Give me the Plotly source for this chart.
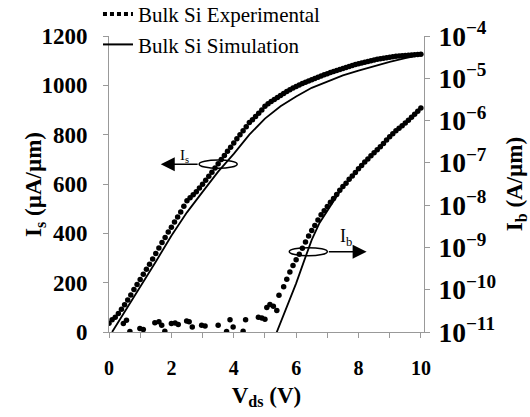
import plotly.graph_objects as go
import numpy as np

# ---- data ----
# Experimental source current Is (uA/um) vs Vds (V), 0.1 V steps
vds_exp = [round(0.1 * i, 1) for i in range(101)]
is_exp = [35, 50, 60, 75, 92, 110, 130, 150, 172, 193,
          213, 234, 254, 275, 296, 318, 341, 363, 383, 405,
          425, 446, 466, 486, 510, 532, 544, 556, 569, 584,
          599, 615, 631, 648, 665, 682, 699, 716, 733, 749,
          766, 783, 800, 816, 832, 849, 860, 874, 887, 900,
          915, 925, 934, 943, 951, 959, 967, 975, 982, 989,
          995, 1001, 1007, 1012, 1018, 1023, 1028, 1033, 1038, 1043,
          1047, 1052, 1056, 1060, 1064, 1068, 1072, 1076, 1080, 1084,
          1087, 1091, 1094, 1097, 1100, 1103, 1106, 1108, 1110, 1112,
          1114, 1116, 1118, 1119, 1120, 1121, 1122, 1123, 1124, 1125,
          1126]

# Simulated source current
vds_sim_is = [0.1, 0.5, 1.0, 1.5, 2.0, 2.5, 3.0, 3.5, 4.0, 4.5, 5.0, 5.5,
              6.0, 6.5, 7.0, 7.5, 8.0, 8.5, 9.0, 9.5, 10.0]
is_sim = [0, 80, 180, 285, 390, 485, 568, 650, 722, 800, 865, 915,
          955, 990, 1015, 1040, 1060, 1078, 1095, 1110, 1124]

# Experimental body current Ib (A/um), given as log10 values
vds_exp_ib = [0.46, 0.56, 0.67, 0.99, 1.1, 1.47, 1.6, 1.69, 1.79, 2.0, 2.12, 2.22,
              2.49, 2.57, 2.67, 2.97, 3.08, 3.5, 3.77, 3.88, 3.98, 4.3, 4.38, 4.79,
              4.9, 5.0, 5.06, 5.16, 5.27, 5.38, 5.45,
              5.6, 5.7, 5.8, 5.9, 6.0, 6.1, 6.2, 6.3, 6.4, 6.5, 6.6, 6.7, 6.8, 6.9,
              7.0, 7.1, 7.2, 7.3, 7.4, 7.5, 7.6, 7.7, 7.8, 7.9, 8.0, 8.1, 8.2, 8.3,
              8.4, 8.5, 8.6, 8.7, 8.8, 8.9, 9.0, 9.1, 9.2, 9.3, 9.4, 9.5, 9.6, 9.7,
              9.8, 9.9, 10.0]
log_ib_exp = [-10.8, -10.72, -10.99, -10.92, -10.94, -10.78, -10.76, -10.84, -10.98, -10.8, -10.79, -10.82,
              -10.74, -10.76, -10.88, -10.84, -10.86, -10.84, -10.99, -10.71, -10.88, -10.98, -10.71, -10.65,
              -10.67, -10.7, -10.42, -10.35, -10.39, -10.49, -10.13,
              -9.93, -9.75, -9.58, -9.43, -9.29, -9.16, -9.02, -8.87, -8.73, -8.60, -8.48, -8.35, -8.23, -8.13,
              -8.03, -7.93, -7.84, -7.75, -7.65, -7.56, -7.48, -7.39, -7.31, -7.23, -7.14, -7.06, -6.98, -6.91,
              -6.83, -6.76, -6.69, -6.62, -6.54, -6.46, -6.38, -6.31, -6.24, -6.18, -6.12, -6.06, -5.99, -5.92,
              -5.85, -5.78, -5.70]

# Simulated body current (log10)
vds_sim_ib = [5.3, 5.5, 5.75, 6.0, 6.25, 6.5, 6.75, 7.0, 7.25, 7.5, 7.75, 8.0, 8.5, 9.0, 9.5, 10.0]
log_ib_sim = [-11.15, -10.78, -10.33, -9.85, -9.33, -8.82, -8.42, -8.15, -7.85, -7.57, -7.35, -7.14,
              -6.76, -6.38, -6.05, -5.68]

ib_exp = [10 ** v for v in log_ib_exp]
ib_sim = [10 ** v for v in log_ib_sim]

SERIF = "Liberation Serif"
AX = "#999999"

fig = go.Figure()

fig.add_trace(go.Scatter(x=vds_exp, y=is_exp, mode="markers",
                         marker=dict(color="black", size=5.5), showlegend=False))
fig.add_trace(go.Scatter(x=vds_sim_is, y=is_sim, mode="lines",
                         line=dict(color="black", width=1.8), showlegend=False))
fig.add_trace(go.Scatter(x=vds_exp_ib, y=ib_exp, mode="markers", yaxis="y2",
                         marker=dict(color="black", size=5.5), showlegend=False))
fig.add_trace(go.Scatter(x=vds_sim_ib, y=ib_sim, mode="lines", yaxis="y2",
                         line=dict(color="black", width=1.8), showlegend=False))

# legend entries
fig.add_trace(go.Scatter(x=[None], y=[None], mode="lines", name="Bulk Si Experimental",
                         line=dict(color="black", width=4, dash="4px,3px")))
fig.add_trace(go.Scatter(x=[None], y=[None], mode="lines", name="Bulk Si Simulation",
                         line=dict(color="black", width=2)))

fig.update_layout(
    width=530, height=417,
    margin=dict(l=109, r=106, t=36, b=85, autoexpand=False),
    paper_bgcolor="white", plot_bgcolor="white",
    font=dict(family=SERIF, color="black"),
    legend=dict(x=-0.035, y=1.142, xanchor="left", yanchor="top",
                bgcolor="rgba(0,0,0,0)", font=dict(size=21, family=SERIF),
                itemwidth=30),
    xaxis=dict(range=[0, 10.1], dtick=2, tick0=0, showgrid=False, zeroline=False,
               showline=True, linecolor=AX, linewidth=1, automargin=False,
               ticks="outside", ticklen=5, tickcolor=AX,
               minor=dict(dtick=1, ticks="outside", ticklen=5, tickcolor=AX),
               tickfont=dict(size=20, family=SERIF, weight="bold"),
               ticklabelstandoff=13,
               title=dict(text="<b>V<sub>ds</sub> (V)</b>", font=dict(size=23, family=SERIF),
                          standoff=8)),
    yaxis=dict(range=[0, 1200], dtick=200, showgrid=False, zeroline=False,
               showline=True, linecolor=AX, linewidth=1, automargin=False,
               ticks="outside", ticklen=5, tickcolor=AX,
               tickfont=dict(size=23, family=SERIF, weight="bold"),
               ticklabelstandoff=11),
    yaxis2=dict(type="log", range=[-11, -4], dtick=1, overlaying="y", side="right",
                showgrid=False, zeroline=False, showline=True, linecolor=AX, linewidth=1,
                automargin=False,
                ticks="outside", ticklen=5, tickcolor=AX, exponentformat="power",
                tickfont=dict(size=22, family=SERIF, weight="bold"),
                ticklabelstandoff=4,
                title=dict(text="<b>I<sub>b</sub> (A/µm)</b>", font=dict(size=23, family=SERIF),
                           standoff=14)),
    yaxis3=dict(type="log", range=[-11, -4], dtick=1, overlaying="y", side="right",
                showgrid=False, zeroline=False, showline=False, showticklabels=False,
                automargin=False, ticks="inside", ticklen=4, tickcolor=AX),
)

# left axis title
fig.add_annotation(x=-0.235, y=0.5, xref="paper", yref="paper", textangle=-90,
                   xanchor="center", yanchor="middle",
                   text="<b>I<sub>s</sub> (µA/µm)</b>", showarrow=False,
                   font=dict(size=23, family=SERIF, color="black"))

# ellipses and arrows
fig.add_shape(type="circle", xref="x", yref="y", x0=2.89, x1=4.11, y0=664, y1=697,
              line=dict(color="black", width=1.5))
fig.add_shape(type="circle", xref="x", yref="y", x0=5.78, x1=7.0, y0=309, y1=342,
              line=dict(color="black", width=1.5))
fig.add_annotation(x=1.66, y=680, ax=2.89, ay=680, xref="x", yref="y", axref="x", ayref="y",
                   text="", showarrow=True, arrowhead=2, arrowsize=2, arrowwidth=1.4,
                   arrowcolor="black")
fig.add_annotation(x=8.26, y=325.5, ax=7.0, ay=325.5, xref="x", yref="y", axref="x", ayref="y",
                   text="", showarrow=True, arrowhead=2, arrowsize=2, arrowwidth=1.4,
                   arrowcolor="black")
fig.add_annotation(x=2.42, y=715, xref="x", yref="y", text="I<sub>s</sub>", showarrow=False,
                   font=dict(size=15, family=SERIF, color="black"))
fig.add_annotation(x=7.6, y=385, xref="x", yref="y", text="I<sub>b</sub>", showarrow=False,
                   font=dict(size=18, family=SERIF, color="black"))

fig.write_html("out.html")
